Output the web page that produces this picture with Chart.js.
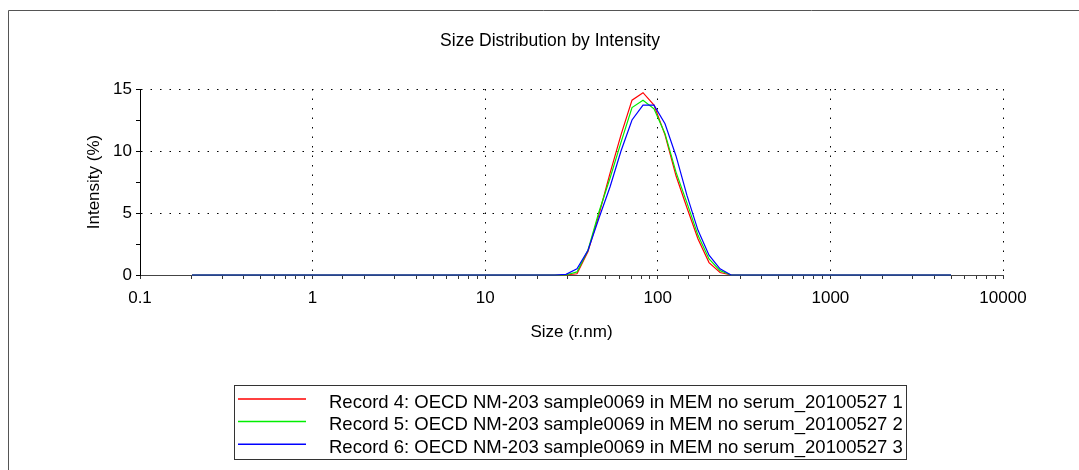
<!DOCTYPE html>
<html>
<head>
<meta charset="utf-8">
<script src="https://cdn.jsdelivr.net/npm/chart.js@4.4.1/dist/chart.umd.min.js"></script>
<style>
  html, body { margin: 0; padding: 0; background: #fff; overflow: hidden; }
  #wrap { position: relative; width: 1079px; height: 470px; }
</style>
</head>
<body>
<div id="wrap"><canvas id="c" width="1079" height="470"></canvas></div>
<script>
// Size bins (radius, nm)
const sizes = [
  0.2, 0.2316, 0.2683, 0.3106, 0.3598, 0.4166, 0.4825, 0.5587, 0.6470, 0.7494,
  0.8679, 1.005, 1.164, 1.348, 1.561, 1.808, 2.094, 2.424, 2.807, 3.251,
  3.766, 4.361, 5.050, 5.849, 6.772, 7.844, 9.083, 10.52, 12.18, 14.11,
  16.34, 18.92, 21.91, 25.38, 29.39, 34.03, 39.41, 45.64, 52.85, 61.20,
  70.89, 82.10, 95.05, 110.1, 127.5, 147.7, 171.0, 198.1, 229.4, 265.6,
  307.6, 356.2, 412.5, 477.7, 553.0, 640.5, 742.0, 859.0, 995.0, 1152,
  1334, 1546, 1790, 2072, 2400, 2780, 3220, 3728, 4318, 5000
];
const record4 = [
  0,0,0,0,0,0,0,0,0,0,
  0,0,0,0,0,0,0,0,0,0,
  0,0,0,0,0,0,0,0,0,0,
  0,0,0,0,0,0.1,1.9,4.9,8.2,11.3,
  14.1,14.7,13.7,11.3,8.0,5.4,2.9,1.0,0.2,0,
  0,0,0,0,0,0,0,0,0,0,
  0,0,0,0,0,0,0,0,0,0
];
const record5 = [
  0,0,0,0,0,0,0,0,0,0,
  0,0,0,0,0,0,0,0,0,0,
  0,0,0,0,0,0,0,0,0,0,
  0,0,0,0,0,0.25,2.0,5.1,7.8,10.7,
  13.5,14.1,13.4,11.4,8.3,5.8,3.2,1.3,0.35,0,
  0,0,0,0,0,0,0,0,0,0,
  0,0,0,0,0,0,0,0,0,0
];
const record6 = [
  0,0,0,0,0,0,0,0,0,0,
  0,0,0,0,0,0,0,0,0,0,
  0,0,0,0,0,0,0,0,0,0,
  0,0,0,0,0.05,0.5,2.0,4.6,7.1,10.0,
  12.5,13.7,13.7,12.2,9.6,6.4,3.6,1.6,0.5,0,
  0,0,0,0,0,0,0,0,0,0,
  0,0,0,0,0,0,0,0,0,0
];
const seriesLabels = [
  'Record 4: OECD NM-203 sample0069 in MEM no serum_20100527 1',
  'Record 5: OECD NM-203 sample0069 in MEM no serum_20100527 2',
  'Record 6: OECD NM-203 sample0069 in MEM no serum_20100527 3'
];
const seriesColors = ['#ff0000', '#00ee00', '#0000ff'];
const xTickValues = [0.1, 1, 10, 100, 1000, 10000];
const yTickValues = [0, 5, 10, 15];
const chartTitle = 'Size Distribution by Intensity';
const xTitle = 'Size (r.nm)';
const yTitle = 'Intensity (%)';

const FONT = 'Liberation Sans, Arial, sans-serif';
const FS = 17;
const LEGEND_FS = 18.5;

function isDecade(v) {
  return xTickValues.some(t => Math.abs(t - v) / t < 1e-6);
}

const series = [record4, record5, record6];
const datasets = series.map((arr, k) => ({
  label: seriesLabels[k],
  data: sizes.map((s, i) => ({ x: s, y: arr[i] })),
  borderColor: seriesColors[k],
  backgroundColor: seriesColors[k],
  borderWidth: 1.2,
  pointRadius: 0,
  tension: 0,
  fill: false,
  clip: 6,
  order: series.length - 1 - k
}));

const framePlugin = {
  id: 'frameAndLegend',
  beforeDraw(chart) {
    const ctx = chart.ctx;
    ctx.save();
    ctx.fillStyle = '#fff';
    ctx.fillRect(0, 0, chart.width, chart.height);
    ctx.strokeStyle = '#555';
    ctx.lineWidth = 1;
    ctx.beginPath();
    ctx.moveTo(8.5, 470);
    ctx.lineTo(8.5, 10.5);
    ctx.lineTo(chart.width, 10.5);
    ctx.stroke();
    ctx.restore();
  },
  afterDraw(chart) {
    const ctx = chart.ctx;
    ctx.save();
    // legend box
    ctx.strokeStyle = '#333';
    ctx.lineWidth = 1;
    ctx.strokeRect(234.5, 385.5, 672, 74);
    chart.data.datasets.forEach((ds, i) => {
      const ly = 399 + 22.6 * i;
      ctx.strokeStyle = ds.borderColor;
      ctx.lineWidth = 1.5;
      ctx.beginPath();
      ctx.moveTo(238, ly);
      ctx.lineTo(306, ly);
      ctx.stroke();
      ctx.fillStyle = '#000';
      ctx.font = LEGEND_FS + 'px ' + FONT;
      ctx.textBaseline = 'alphabetic';
      ctx.textAlign = 'left';
      ctx.fillText(ds.label, 329, 407.5 + 22.6 * i);
    });
    ctx.restore();
  }
};

new Chart(document.getElementById('c'), {
  type: 'line',
  data: { datasets },
  plugins: [framePlugin],
  options: {
    responsive: false,
    animation: false,
    devicePixelRatio: 1,
    layout: { padding: { left: 21, right: 0, top: 0, bottom: 123 } },
    plugins: {
      legend: { display: false },
      tooltip: { enabled: false },
      title: {
        display: true,
        text: chartTitle,
        color: '#000',
        font: { family: FONT, size: 17.5, weight: 'normal' },
        padding: { top: 31, bottom: 37 }
      }
    },
    scales: {
      x: {
        type: 'logarithmic',
        position: 'bottom',
        min: 0.1,
        max: 10000,
        afterFit(s) { s.height = 72; },
        grid: {
          color: (c) => (c.tick && isDecade(c.tick.value) && c.tick.value !== 0.1) ? '#000' : 'rgba(0,0,0,0)',
          lineWidth: 1,
          tickColor: '#333',
          tickLength: 4,
          drawTicks: true,
          offset: false
        },
        border: { display: true, color: '#444', width: 1, dash: [1.5, 8] },
        ticks: {
          autoSkip: false,
          maxRotation: 0,
          minRotation: 0,
          padding: 9,
          color: '#000',
          font: { family: FONT, size: FS },
          callback: (v) => isDecade(v) ? String(xTickValues.find(t => Math.abs(t - v) / t < 1e-6)) : ''
        },
        title: {
          display: true,
          text: xTitle,
          color: '#000',
          font: { family: FONT, size: FS },
          padding: { top: 0, bottom: 4.5 }
        }
      },
      y: {
        type: 'linear',
        position: 'left',
        min: 0,
        max: 15,
        afterFit(s) { s.width = 119; },
        afterBuildTicks(s) {
          const t = [];
          for (let k = 0; k < yTickValues.length; k++) {
            t.push({ value: yTickValues[k] });
            if (k < yTickValues.length - 1) t.push({ value: (yTickValues[k] + yTickValues[k + 1]) / 2 });
          }
          s.ticks = t;
        },
        grid: {
          color: (c) => (c.tick && yTickValues.includes(c.tick.value) && c.tick.value !== 0) ? '#000' : 'rgba(0,0,0,0)',
          lineWidth: 1,
          tickColor: '#000',
          tickLength: 4,
          drawTicks: true
        },
        border: { display: true, color: '#000', width: 1, dash: [1.5, 8] },
        ticks: {
          padding: 4,
          color: '#000',
          font: { family: FONT, size: FS },
          callback: (v) => yTickValues.includes(v) ? String(v) : ''
        },
        title: {
          display: true,
          text: yTitle,
          color: '#000',
          font: { family: FONT, size: FS },
          padding: { top: 63, bottom: 0 }
        }
      },
      yRight: {
        type: 'linear',
        position: 'right',
        display: true,
        afterFit(s) { s.width = 76; },
        grid: { display: false, drawTicks: false },
        border: { display: false },
        ticks: { display: false }
      }
    }
  }
});
</script>
</body>
</html>
